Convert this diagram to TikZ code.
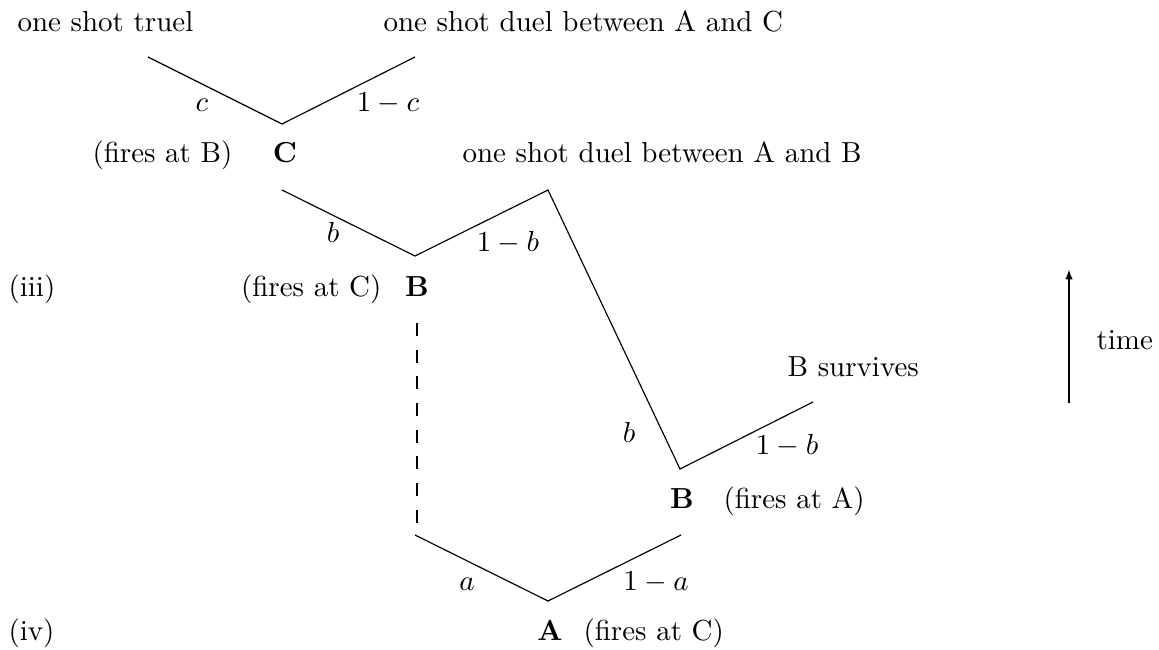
\documentclass[tikz,border=0pt]{standalone}
\usetikzlibrary{arrows.meta}
\begin{document}
\begin{tikzpicture}[x=0.345pt,y=-0.345pt,
  branch/.style={line width=0.4pt},
  waitline/.style={line width=0.85pt,dash pattern=on 4.5pt off 4.7pt},
  timearrow/.style={line width=0.85pt,-{Latex[length=3.6pt,width=2.6pt]}},
  txt/.style={inner sep=0pt,anchor=base west},
  lab/.style={inner sep=0pt,anchor=base}]
\useasboundingbox (0,0) rectangle (1159,650);
% coordinates
\coordinate (c1) at (148,57);
\coordinate (cv) at (282,124);
\coordinate (c2) at (415,57);
\coordinate (b1) at (282,190);
\coordinate (bv) at (415,256);
\coordinate (b2) at (548,190);
\coordinate (rv) at (680,469);
\coordinate (r2) at (813,402);
\coordinate (a1) at (415,535);
\coordinate (av) at (548,601);
\coordinate (a2) at (681,535);
\coordinate (dtop) at (417,323);
\coordinate (dbot) at (417,527);
\coordinate (tbot) at (1069,403);
\coordinate (ttop) at (1069,269);
% branches
\draw[branch] (c1) -- (cv) -- (c2);
\draw[branch] (b1) -- (bv) -- (b2) -- (rv) -- (r2);
\draw[branch] (a1) -- (av) -- (a2);
\draw[waitline] (dtop) -- (dbot);
\draw[timearrow] (tbot) -- (ttop);
% texts
\node[txt] (t1) at (17,32) {one shot truel};
\node[txt] (t2) at (383,32) {one shot duel between A and C};
\node[txt] (t3) at (462,163) {one shot duel between A and B};
\node[txt] (t4) at (787,377) {B survives};
\node[txt] (t5) at (1096,350) {time};
\node[txt] (iii) at (8,297) {(iii)};
\node[txt] (iv) at (8,640) {(iv)};
% shooters
\node[lab] (C) at (285,163) {$\mathbf{C}$};
\node[lab,anchor=base east] (Cf) at (233,163) {(fires at B)};
\node[lab] (B) at (417,297) {$\mathbf{B}$};
\node[lab,anchor=base east] (Bf) at (382,297) {(fires at C)};
\node[lab] (B2) at (682,508) {$\mathbf{B}$};
\node[txt] (B2f) at (723,508) {(fires at A)};
\node[lab] (A) at (550,640) {$\mathbf{A}$};
\node[txt] (Af) at (583,640) {(fires at C)};
% probabilities
\node[lab] (pc) at (202,112) {$c$};
\node[lab] (pc1) at (388,112) {$1-c$};
\node[lab] (pb) at (333,243) {$b$};
\node[lab] (pb1) at (508,252) {$1-b$};
\node[lab] (pb2) at (629,442) {$b$};
\node[lab] (pb3) at (787,455) {$1-b$};
\node[lab] (pa) at (467,590) {$a$};
\node[lab] (pa1) at (656,590) {$1-a$};
\end{tikzpicture}
\end{document}
